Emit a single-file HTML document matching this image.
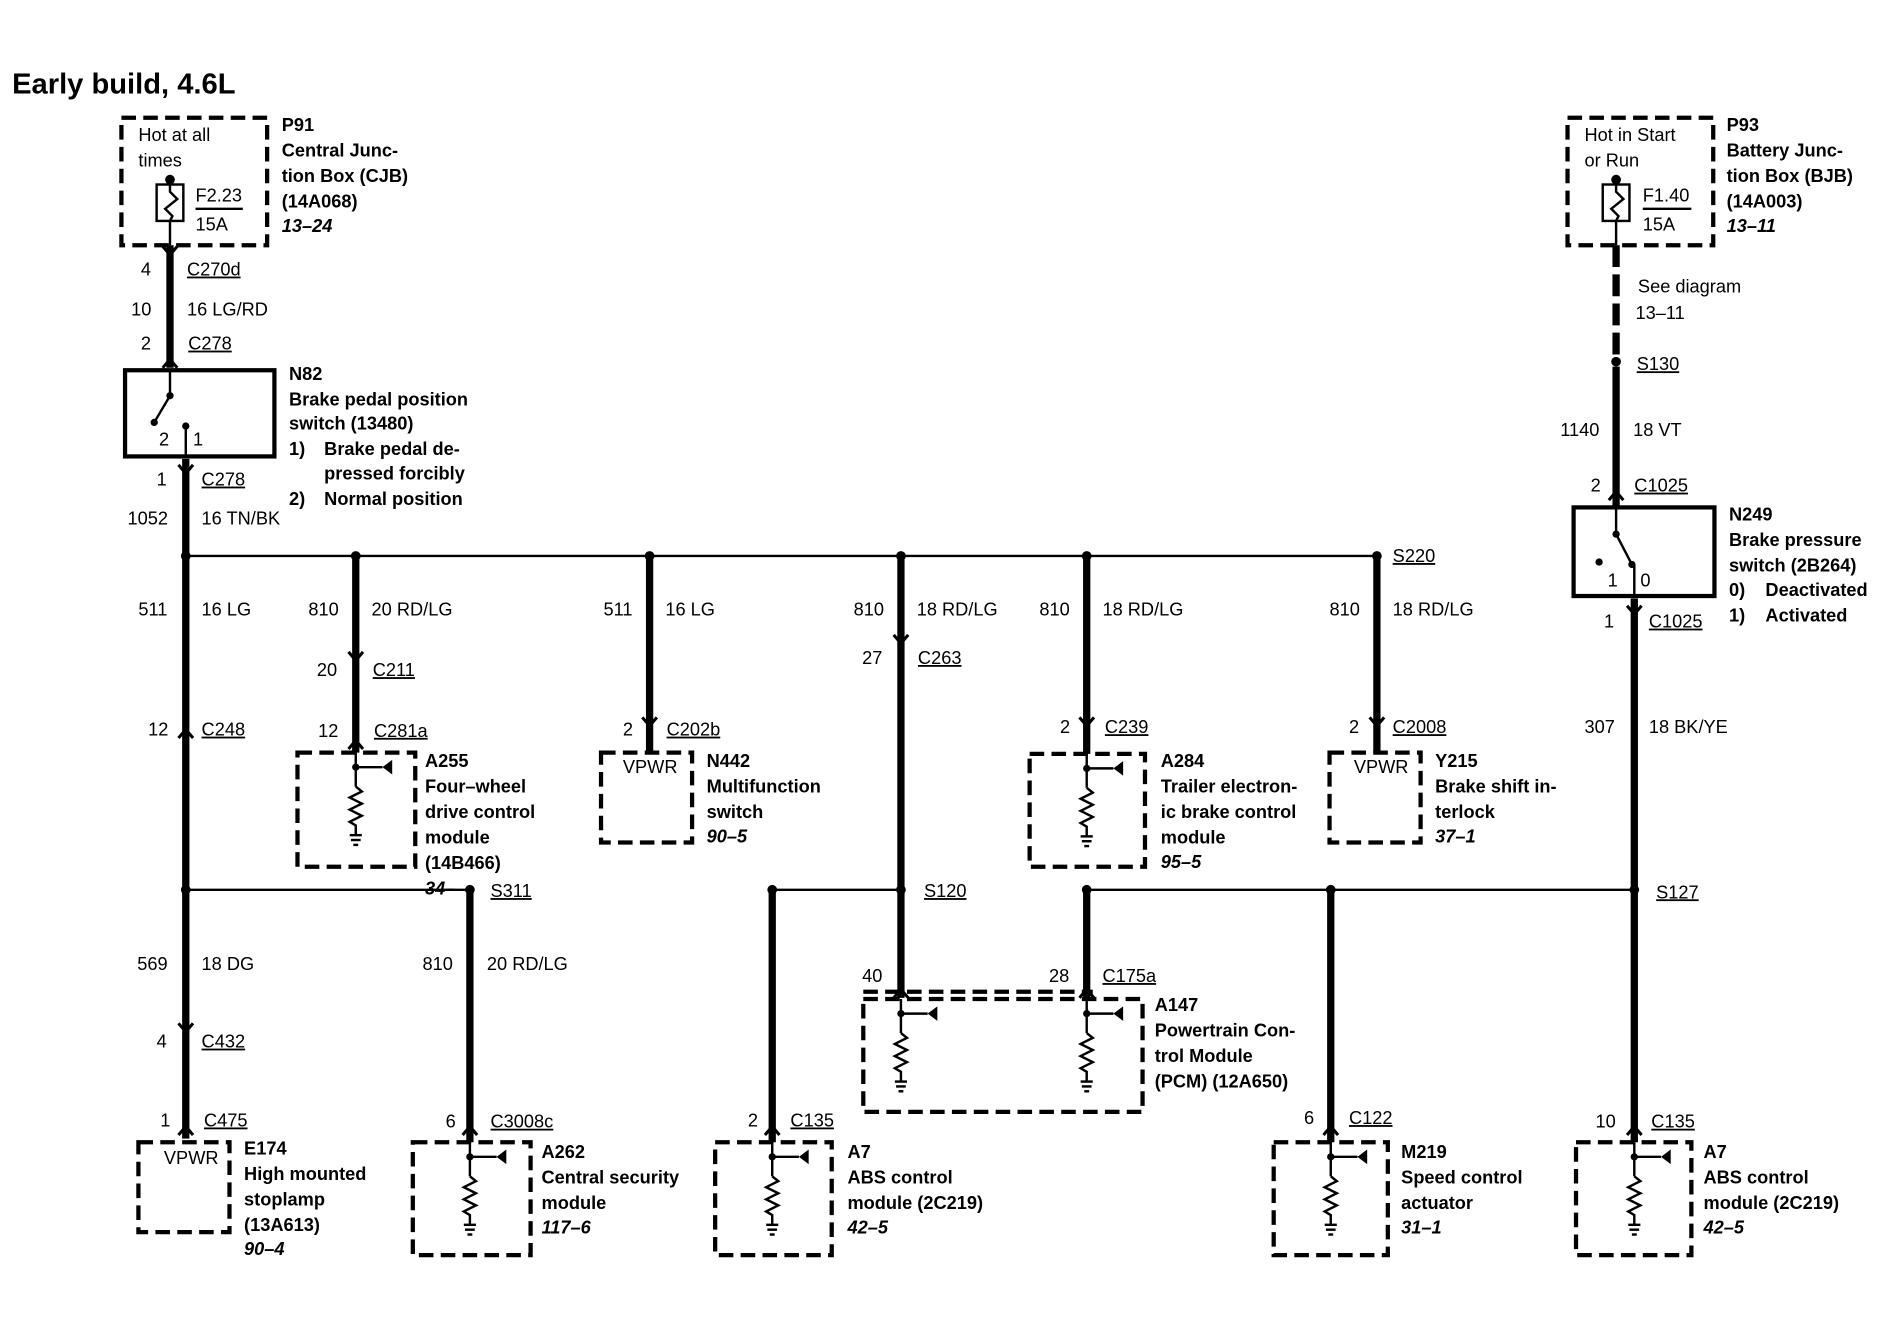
<!DOCTYPE html>
<html><head><meta charset="utf-8"><style>
html,body{margin:0;padding:0;background:#fff}
svg{display:block}
text{font-family:"Liberation Sans",Arial,sans-serif;font-size:15px;fill:#000}
.b{font-weight:bold}
.i{font-weight:bold;font-style:italic}
.u{text-decoration:underline}
.w{stroke:#000;stroke-width:6;fill:none}
.n{stroke:#000;stroke-width:2;fill:none}
.d{stroke:#000;stroke-width:3.5;fill:none;stroke-dasharray:12,6}
.s{stroke:#000;stroke-width:3.5;fill:none}
.a{stroke:#000;stroke-width:2.5;fill:none}
</style></head><body>
<svg width="1882" height="1328" viewBox="0 0 1550 1094" preserveAspectRatio="none" xmlns="http://www.w3.org/2000/svg">
<defs>
<g id="mod">
<line class="n" x1="0" y1="0" x2="0" y2="28"/>
<circle cx="0" cy="12" r="3"/>
<line class="n" x1="0" y1="12" x2="22" y2="12"/>
<polygon points="22,12 30,6 30,18"/>
<polyline class="n" points="0,28 5,32 -5,37 5,42 -5,47 5,52 -5,57 0,60 0,68"/>
<line class="n" x1="-5" y1="68" x2="5" y2="68"/>
<line class="n" x1="-4" y1="72" x2="4" y2="72"/>
<line class="n" x1="-2" y1="76" x2="2" y2="76"/>
</g>
<polyline id="dn" class="a" points="-6,-7 0,0 6,-7"/>
<polyline id="up" class="a" points="-6,7 0,0 6,7"/>
</defs>

<text x="10" y="77" class="b" style="font-size:24px">Early build, 4.6L</text>

<!-- P91 -->
<rect class="d" x="100" y="97" width="120" height="105"/>
<text x="114" y="116">Hot at all</text><text x="114" y="137">times</text>
<circle cx="140" cy="148" r="4"/>
<rect class="n" x="129" y="152" width="22" height="30"/>
<polyline class="n" points="140,148 140,158 146,164 136,172 142,178 140,182 140,202"/>
<text x="161" y="166">F2.23</text><line class="n" x1="161" y1="172" x2="200" y2="172"/><text x="161" y="190">15A</text>
<text x="232" y="108" class="b">P91</text><text x="232" y="129" class="b">Central Junc-</text><text x="232" y="150" class="b">tion Box (CJB)</text><text x="232" y="171" class="b">(14A068)</text><text x="232" y="191" class="i">13–24</text>
<line class="w" x1="140" y1="202" x2="140" y2="303"/>
<use href="#dn" x="140" y="210"/><use href="#up" x="140" y="296"/>
<text x="116" y="227">4</text><text x="154" y="227" class="u">C270d</text>
<text x="108" y="260">10</text><text x="154" y="260">16 LG/RD</text>
<text x="116" y="288">2</text><text x="155" y="288" class="u">C278</text>

<!-- N82 -->
<rect class="s" x="103" y="305" width="123" height="71"/>
<line class="n" x1="140" y1="305" x2="140" y2="326"/><circle cx="140" cy="326" r="3"/>
<line class="n" x1="140" y1="326" x2="127" y2="348"/><circle cx="127" cy="348" r="3"/>
<circle cx="153" cy="351" r="3"/><line class="n" x1="153" y1="351" x2="153" y2="376"/>
<text x="131" y="367">2</text><text x="159" y="367">1</text>
<text x="238" y="313" class="b">N82</text><text x="238" y="334" class="b">Brake pedal position</text><text x="238" y="354" class="b">switch (13480)</text>
<text x="238" y="375" class="b">1)</text><text x="267" y="375" class="b">Brake pedal de-</text><text x="267" y="395" class="b">pressed forcibly</text>
<text x="238" y="416" class="b">2)</text><text x="267" y="416" class="b">Normal position</text>
<line class="w" x1="153" y1="378" x2="153" y2="458"/><use href="#dn" x="153" y="390"/>
<text x="129" y="400">1</text><text x="166" y="400" class="u">C278</text>
<text x="105" y="432">1052</text><text x="166" y="432">16 TN/BK</text>

<!-- bus 1 -->
<line class="n" x1="153" y1="458" x2="1134" y2="458"/>
<circle cx="153" cy="458" r="4"/><circle cx="293" cy="458" r="4"/><circle cx="535" cy="458" r="4"/><circle cx="742" cy="458" r="4"/><circle cx="895" cy="458" r="4"/><circle cx="1134" cy="458" r="4"/>
<text x="1147" y="463" class="u">S220</text>

<!-- x153 -->
<line class="w" x1="153" y1="458" x2="153" y2="938"/>
<use href="#up" x="153" y="601"/><use href="#dn" x="153" y="850"/><use href="#up" x="153" y="928"/>
<text x="114" y="507">511</text><text x="166" y="507">16 LG</text>
<text x="122" y="606">12</text><text x="166" y="606" class="u">C248</text>
<text x="113" y="799">569</text><text x="166" y="799">18 DG</text>
<text x="129" y="863">4</text><text x="166" y="863" class="u">C432</text>
<text x="132" y="928">1</text><text x="168" y="928" class="u">C475</text>
<rect class="d" x="114" y="941" width="75" height="74"/><text x="135" y="959">VPWR</text>
<text x="201" y="951" class="b">E174</text><text x="201" y="972" class="b">High mounted</text><text x="201" y="993" class="b">stoplamp</text><text x="201" y="1014" class="b">(13A613)</text><text x="201" y="1034" class="i">90–4</text>

<!-- x293 A255 -->
<line class="w" x1="293" y1="458" x2="293" y2="620"/>
<use href="#dn" x="293" y="544"/><use href="#up" x="293" y="610"/>
<text x="254" y="507">810</text><text x="306" y="507">20 RD/LG</text>
<text x="261" y="557">20</text><text x="307" y="557" class="u">C211</text>
<text x="262" y="607">12</text><text x="308" y="607" class="u">C281a</text>
<rect class="d" x="245" y="620" width="97" height="94"/><use href="#mod" x="293" y="620"/>
<text x="350" y="632" class="b">A255</text><text x="350" y="653" class="b">Four–wheel</text><text x="350" y="674" class="b">drive control</text><text x="350" y="695" class="b">module</text><text x="350" y="716" class="b">(14B466)</text><text x="350" y="737" class="i">34–</text>

<!-- S311 -->
<line class="n" x1="153" y1="733" x2="387" y2="733"/>
<circle cx="153" cy="733" r="4"/><circle cx="387" cy="733" r="4"/>
<text x="404" y="739" class="u">S311</text>
<line class="w" x1="387" y1="733" x2="387" y2="941"/><use href="#up" x="387" y="928"/>
<text x="348" y="799">810</text><text x="401" y="799">20 RD/LG</text>
<text x="367" y="929">6</text><text x="404" y="929" class="u">C3008c</text>
<rect class="d" x="340" y="941" width="97" height="93"/><use href="#mod" x="387" y="941"/>
<text x="446" y="975" class="b">Central security</text><text x="446" y="954" class="b">A262</text><text x="446" y="996" class="b">module</text><text x="446" y="1016" class="i">117–6</text>

<!-- x535 N442 -->
<line class="w" x1="535" y1="458" x2="535" y2="620"/><use href="#dn" x="535" y="598"/>
<text x="497" y="507">511</text><text x="548" y="507">16 LG</text>
<text x="513" y="606">2</text><text x="549" y="606" class="u">C202b</text>
<rect class="d" x="495" y="620" width="75" height="74"/><text x="513" y="637">VPWR</text>
<text x="582" y="632" class="b">N442</text><text x="582" y="653" class="b">Multifunction</text><text x="582" y="674" class="b">switch</text><text x="582" y="694" class="i">90–5</text>

<!-- x742 -->
<line class="w" x1="742" y1="458" x2="742" y2="822"/>
<use href="#dn" x="742" y="530"/><use href="#up" x="742" y="815"/>
<text x="703" y="507">810</text><text x="755" y="507">18 RD/LG</text>
<text x="710" y="547">27</text><text x="756" y="547" class="u">C263</text>
<line class="n" x1="636" y1="733" x2="742" y2="733"/>
<circle cx="636" cy="733" r="4"/><circle cx="742" cy="733" r="4"/>
<text x="761" y="739" class="u">S120</text>
<text x="710" y="809">40</text>

<!-- x636 A7 -->
<line class="w" x1="636" y1="733" x2="636" y2="941"/><use href="#up" x="636" y="928"/>
<text x="616" y="928">2</text><text x="651" y="928" class="u">C135</text>
<rect class="d" x="589" y="941" width="96" height="93"/><use href="#mod" x="636" y="941"/>
<text x="698" y="954" class="b">A7</text><text x="698" y="975" class="b">ABS control</text><text x="698" y="996" class="b">module (2C219)</text><text x="698" y="1016" class="i">42–5</text>

<!-- x895 A284 -->
<line class="w" x1="895" y1="458" x2="895" y2="621"/><use href="#dn" x="895" y="598"/>
<text x="856" y="507">810</text><text x="908" y="507">18 RD/LG</text>
<text x="873" y="604">2</text><text x="910" y="604" class="u">C239</text>
<rect class="d" x="848" y="621" width="95" height="93"/><use href="#mod" x="895" y="621"/>
<text x="956" y="632" class="b">A284</text><text x="956" y="653" class="b">Trailer electron-</text><text x="956" y="674" class="b">ic brake control</text><text x="956" y="695" class="b">module</text><text x="956" y="715" class="i">95–5</text>

<!-- bus S127 -->
<line class="n" x1="895" y1="733" x2="1346" y2="733"/>
<circle cx="895" cy="733" r="4"/><circle cx="1096" cy="733" r="4"/><circle cx="1346" cy="733" r="4"/>
<text x="1364" y="740" class="u">S127</text>
<line class="w" x1="895" y1="733" x2="895" y2="822"/><use href="#up" x="895" y="815"/>
<text x="864" y="809">28</text><text x="908" y="809" class="u">C175a</text>

<!-- A147 -->
<line class="d" x1="711" y1="817" x2="900" y2="817"/>
<rect class="d" x="711" y="823" width="230" height="93"/>
<use href="#mod" x="742" y="823"/><use href="#mod" x="895" y="823"/>
<text x="951" y="833" class="b">A147</text><text x="951" y="854" class="b">Powertrain Con-</text><text x="951" y="875" class="b">trol Module</text><text x="951" y="896" class="b">(PCM) (12A650)</text>

<!-- x1134 Y215 -->
<line class="w" x1="1134" y1="458" x2="1134" y2="620"/><use href="#dn" x="1134" y="598"/>
<text x="1095" y="507">810</text><text x="1147" y="507">18 RD/LG</text>
<text x="1111" y="604">2</text><text x="1147" y="604" class="u">C2008</text>
<rect class="d" x="1095" y="620" width="75" height="74"/><text x="1115" y="637">VPWR</text>
<text x="1182" y="632" class="b">Y215</text><text x="1182" y="653" class="b">Brake shift in-</text><text x="1182" y="674" class="b">terlock</text><text x="1182" y="694" class="i">37–1</text>

<!-- x1096 M219 -->
<line class="w" x1="1096" y1="733" x2="1096" y2="941"/><use href="#up" x="1096" y="928"/>
<text x="1074" y="926">6</text><text x="1111" y="926" class="u">C122</text>
<rect class="d" x="1049" y="941" width="94" height="93"/><use href="#mod" x="1096" y="941"/>
<text x="1154" y="954" class="b">M219</text><text x="1154" y="975" class="b">Speed control</text><text x="1154" y="996" class="b">actuator</text><text x="1154" y="1016" class="i">31–1</text>

<!-- P93 -->
<rect class="d" x="1291" y="97" width="120" height="105"/>
<text x="1305" y="116">Hot in Start</text><text x="1305" y="137">or Run</text>
<circle cx="1331" cy="148" r="4"/>
<rect class="n" x="1320" y="152" width="22" height="30"/>
<polyline class="n" points="1331,148 1331,158 1337,164 1327,172 1333,178 1331,182 1331,202"/>
<text x="1353" y="166">F1.40</text><line class="n" x1="1353" y1="172" x2="1393" y2="172"/><text x="1353" y="190">15A</text>
<text x="1422" y="108" class="b">P93</text><text x="1422" y="129" class="b">Battery Junc-</text><text x="1422" y="150" class="b">tion Box (BJB)</text><text x="1422" y="171" class="b">(14A003)</text><text x="1422" y="191" class="i">13–11</text>
<line x1="1331" y1="202" x2="1331" y2="294" style="stroke:#000;stroke-width:6;stroke-dasharray:18,6"/>
<text x="1349" y="241">See diagram</text><text x="1347" y="263">13–11</text>
<circle cx="1331" cy="298" r="4"/><text x="1348" y="305" class="u">S130</text>
<line class="w" x1="1331" y1="302" x2="1331" y2="418"/><use href="#up" x="1331" y="405"/>
<text x="1285" y="359">1140</text><text x="1345" y="359">18 VT</text>
<text x="1310" y="405">2</text><text x="1346" y="405" class="u">C1025</text>

<!-- N249 -->
<rect class="s" x="1296" y="418" width="116" height="73"/>
<line class="n" x1="1331" y1="418" x2="1331" y2="440"/><circle cx="1331" cy="440" r="3"/>
<line class="n" x1="1331" y1="440" x2="1344" y2="465"/><circle cx="1344" cy="465" r="3"/>
<line class="n" x1="1346" y1="465" x2="1346" y2="491"/>
<circle cx="1317" cy="463" r="3"/>
<text x="1324" y="483">1</text><text x="1351" y="483">0</text>
<text x="1424" y="429" class="b">N249</text><text x="1424" y="450" class="b">Brake pressure</text><text x="1424" y="471" class="b">switch (2B264)</text>
<text x="1424" y="491" class="b">0)</text><text x="1454" y="491" class="b">Deactivated</text>
<text x="1424" y="512" class="b">1)</text><text x="1454" y="512" class="b">Activated</text>

<line class="w" x1="1346" y1="493" x2="1346" y2="941"/>
<use href="#dn" x="1346" y="506"/><use href="#up" x="1346" y="928"/>
<text x="1321" y="517">1</text><text x="1358" y="517" class="u">C1025</text>
<text x="1305" y="604">307</text><text x="1358" y="604">18 BK/YE</text>
<text x="1314" y="929">10</text><text x="1360" y="929" class="u">C135</text>
<rect class="d" x="1298" y="941" width="95" height="93"/><use href="#mod" x="1346" y="941"/>
<text x="1403" y="954" class="b">A7</text><text x="1403" y="975" class="b">ABS control</text><text x="1403" y="996" class="b">module (2C219)</text><text x="1403" y="1016" class="i">42–5</text>
</svg>
</body></html>
